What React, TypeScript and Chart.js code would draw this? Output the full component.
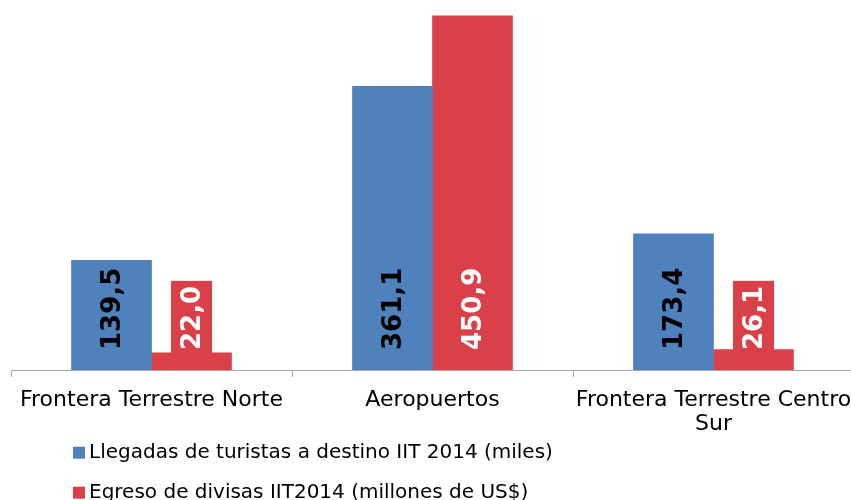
import React, { useEffect, useRef } from 'react';
import { Chart, registerables } from 'chart.js';

Chart.register(...registerables);

const categories: string[][] = [
  ['Frontera Terrestre Norte'],
  ['Aeropuertos'],
  ['Frontera Terrestre Centro', 'Sur'],
];
const llegadas: number[] = [139.5, 361.1, 173.4];
const egreso: number[] = [22.0, 450.9, 26.1];
const seriesNames: string[] = [
  'Llegadas de turistas a destino IIT 2014 (miles)',
  'Egreso de divisas IIT2014 (millones de US$)',
];
const seriesColors: string[] = ['#4F81BD', '#DA4047'];
const labelColors: string[] = ['#000000', '#FFFFFF'];

const FONT = '"DejaVu Sans", Verdana, sans-serif';

const barLabelPlugin = {
  id: 'barLabels',
  afterDatasetsDraw(chart: any) {
    const ctx = chart.ctx as CanvasRenderingContext2D;
    chart.data.datasets.forEach((ds: any, di: number) => {
      const meta = chart.getDatasetMeta(di);
      meta.data.forEach((bar: any, i: number) => {
        const v = ds.data[i] as number;
        const text = v.toFixed(1).replace('.', ',');
        ctx.save();
        ctx.translate(bar.x, bar.base - 20);
        ctx.rotate(-Math.PI / 2);
        ctx.font = `bold 26px ${FONT}`;
        const w = ctx.measureText(text).width;
        ctx.fillStyle = ds.backgroundColor;
        ctx.fillRect(-3, -20.5, w + 8, 41);
        ctx.fillStyle = labelColors[di];
        ctx.textAlign = 'left';
        ctx.textBaseline = 'middle';
        ctx.fillText(text, 0, 2);
        ctx.restore();
      });
    });
  },
};

const legendPlugin = {
  id: 'customLegend',
  afterDraw(chart: any) {
    const ctx = chart.ctx as CanvasRenderingContext2D;
    const area = chart.chartArea;
    ctx.save();
    ctx.font = `20px ${FONT}`;
    ctx.textAlign = 'left';
    ctx.textBaseline = 'alphabetic';
    chart.data.datasets.forEach((ds: any, i: number) => {
      const yb = area.bottom + 88.3 + 40 * i;
      ctx.fillStyle = ds.backgroundColor;
      ctx.fillRect(area.left + 62, yb - 11.6, 12, 12);
      ctx.fillStyle = '#000000';
      ctx.fillText(ds.label, area.left + 78, yb);
    });
    ctx.restore();
  },
};

export default function App() {
  const ref = useRef<HTMLCanvasElement>(null);
  useEffect(() => {
    if (!ref.current) return;
    const chart = new Chart(ref.current, {
      type: 'bar',
      data: {
        labels: categories,
        datasets: [
          {
            label: seriesNames[0],
            data: llegadas,
            backgroundColor: seriesColors[0],
            borderWidth: 0,
            barThickness: 80,
          },
          {
            label: seriesNames[1],
            data: egreso,
            backgroundColor: seriesColors[1],
            borderWidth: 0,
            barThickness: 80,
          },
        ],
      },
      options: {
        animation: false,
        responsive: false,
        devicePixelRatio: 1,
        layout: { padding: { left: 11, right: 16, top: 0, bottom: 65 } },
        plugins: {
          legend: { display: false },
          tooltip: { enabled: false },
        },
        scales: {
          x: {
            afterFit: (s: any) => {
              s.height = 65;
            },
            grid: {
              offset: true,
              drawOnChartArea: false,
              drawTicks: true,
              tickLength: 7,
              color: '#A6A6A6',
              lineWidth: 1,
            },
            border: { display: true, color: '#A6A6A6', width: 1 },
            ticks: {
              autoSkip: false,
              maxRotation: 0,
              minRotation: 0,
              padding: 11,
              color: '#000000',
              font: { family: FONT, size: 22, lineHeight: 1.09 },
            },
          },
          y: { display: false, min: 0, max: 471 },
        },
      },
      plugins: [barLabelPlugin, legendPlugin],
    } as any);
    return () => chart.destroy();
  }, []);
  return (
    <div
      style={{
        position: 'absolute',
        left: 0,
        top: 0,
        width: 851,
        height: 500,
        overflow: 'hidden',
        background: '#ffffff',
      }}
    >
      <canvas ref={ref} width={870} height={500} style={{ display: 'block' }} />
    </div>
  );
}
